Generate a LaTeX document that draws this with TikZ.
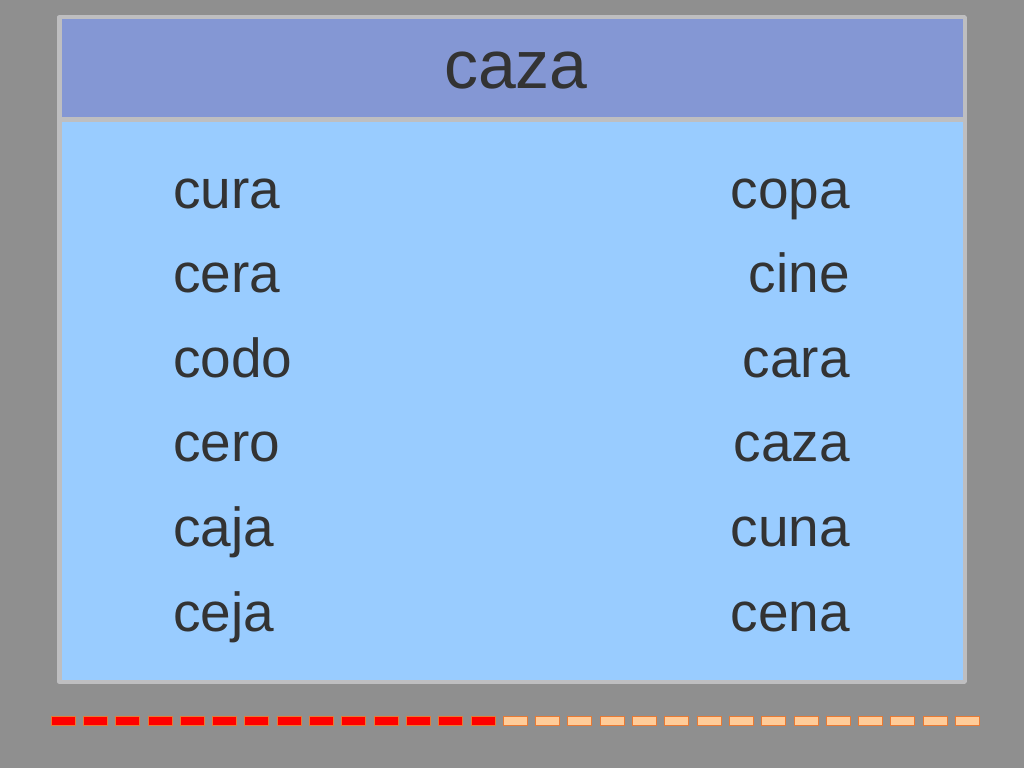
\documentclass[tikz,border=0pt]{standalone}
\usepackage{fontspec}
\setmainfont{Liberation Sans}
\definecolor{bggray}{RGB}{143,143,143}
\definecolor{framegray}{RGB}{190,190,192}
\definecolor{headblue}{RGB}{132,151,212}
\definecolor{bodyblue}{RGB}{153,204,255}
\definecolor{ink}{RGB}{51,51,51}
\definecolor{dashred}{RGB}{255,0,0}
\definecolor{dashpeach}{RGB}{255,204,153}
\definecolor{dashedge}{RGB}{232,122,52}
\begin{document}
\begin{tikzpicture}[x=1pt,y=-1pt, line join=round,
	word/.style={inner sep=0pt, text=ink, font=\fontsize{55}{60}\selectfont},
	redbox/.style={fill=dashred, draw=dashedge, line width=0.8pt},
	peachbox/.style={fill=dashpeach, draw=dashedge, line width=0.8pt}]
	\def\xl{59.25} \def\xr{964.75} % frame
	\def\yt{17.25} \def\yb{681.75} \def\ym{119.5}
	\def\pitch{84.6} % word rows
	\fill[bggray] (0,0) rectangle (1024,768);
	\useasboundingbox (0,0) rectangle (1024,768);
	\fill[headblue] (\xl,\yt) rectangle (\xr,\ym);
	\fill[bodyblue] (\xl,\ym) rectangle (\xr,\yb);
	\draw[framegray, line width=4.5pt] (\xl,\yt) rectangle (\xr,\yb);
	\draw[framegray, line width=5pt] (\xl,\ym)--(\xr,\ym);
	\node[inner sep=0pt, text=ink, font=\fontsize{68}{72}\selectfont, anchor=base] (title) at (516,88) {caza};
	\foreach \w [count=\i] in {cura,cera,codo,cero,caja,ceja}
		\node[word, anchor=base west] (L\i) at (173,{208+\pitch*(\i-1)}) {\w};
	\foreach \w [count=\i] in {copa,cine,cara,caza,cuna,cena}
		\node[word, anchor=base east] (R\i) at (850,{208+\pitch*(\i-1)}) {\w};
	\foreach \i in {0,...,13}
		\draw[redbox] ({51+32.3*\i},716.5) rectangle +(24,8.5);
	\foreach \i in {14,...,28}
		\draw[peachbox] ({51+32.3*\i},716.5) rectangle +(24,8.5);
\end{tikzpicture}
\end{document}
